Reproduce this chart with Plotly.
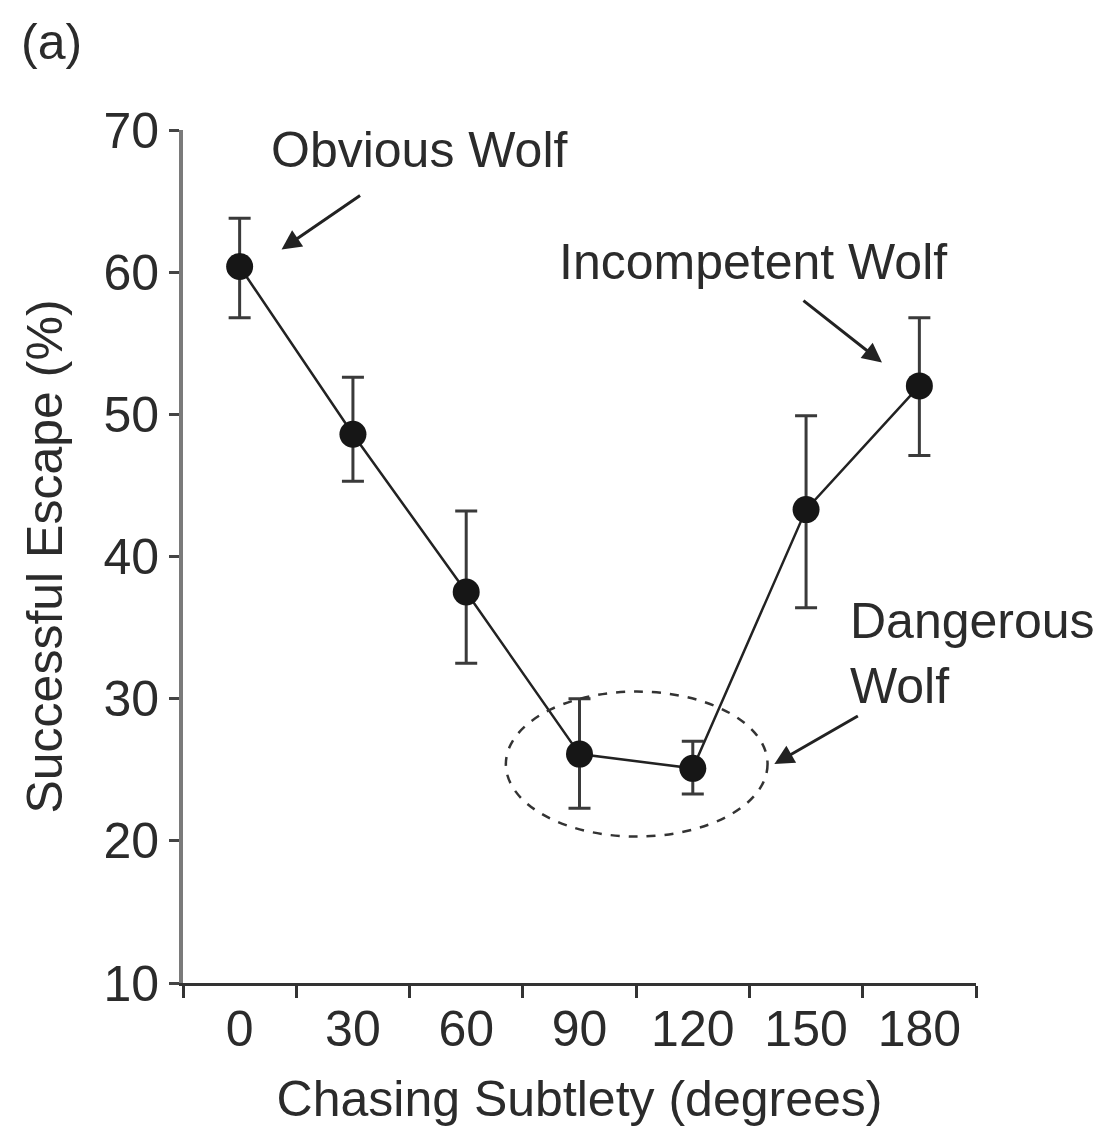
import plotly.graph_objects as go

# Chasing subtlety conditions and escape rates
subtlety = ["0", "30", "60", "90", "120", "150", "180"]
escape_pct = [60.4, 48.6, 37.5, 26.1, 25.1, 43.3, 52.0]
err_upper = [63.8, 52.6, 43.2, 30.0, 27.0, 49.9, 56.8]
err_lower = [56.8, 45.3, 32.5, 22.3, 23.3, 36.4, 47.1]

err_plus = [u - v for u, v in zip(err_upper, escape_pct)]
err_minus = [v - l for v, l in zip(escape_pct, err_lower)]

FONT = "Liberation Sans, Arial, Helvetica, sans-serif"
TXT = "#2b2b2b"
FS = 50

fig = go.Figure()
fig.add_trace(go.Scatter(
    x=subtlety, y=escape_pct,
    mode="lines+markers",
    line=dict(color="#222222", width=2.5),
    marker=dict(color="#161616", size=27),
    error_y=dict(type="data", symmetric=False, array=err_plus,
                 arrayminus=err_minus, color="#3a3a3a",
                 thickness=3, width=11),
    showlegend=False,
))

# dashed ellipse around the low-escape conditions
fig.add_shape(type="circle", xref="x", yref="y",
              x0=2.35, x1=4.66, y0=20.3, y1=30.5,
              line=dict(color="#333333", width=2.5, dash="dash"))

ann_font = dict(family=FONT, size=FS, color=TXT)
fig.add_annotation(x=1.59, y=68.6, xref="x", yref="y", text="Obvious Wolf",
                   showarrow=False, font=ann_font)
fig.add_annotation(x=4.53, y=60.74, xref="x", yref="y", text="Incompetent Wolf",
                   showarrow=False, font=ann_font)
fig.add_annotation(x=5.37, y=33.2, xref="x", yref="y", text="Dangerous<br>Wolf",
                   showarrow=False, xanchor="left", align="left", font=ann_font)

arrow = dict(showarrow=True, arrowhead=2, arrowsize=1.3, arrowwidth=3,
             arrowcolor="#222222", text="", standoff=0, xref="x", yref="y")
fig.add_annotation(x=0.37, y=61.6, ax=80, ay=-55, **arrow)
fig.add_annotation(x=5.67, y=53.65, ax=-80, ay=-63, **arrow)
fig.add_annotation(x=4.72, y=25.4, ax=85, ay=-49, **arrow)

# panel label
fig.add_annotation(x=-0.166, y=1.103, xref="paper", yref="paper", text="(a)",
                   xanchor="center", yanchor="middle",
                   showarrow=False, font=ann_font)

fig.update_xaxes(
    type="category", range=[-0.5, 6.5], tickson="boundaries",
    ticks="outside", ticklen=12, tickwidth=3, tickcolor="#333333",
    showline=True, linecolor="#333333", linewidth=3,
    showgrid=False, zeroline=False,
    tickfont=dict(family=FONT, size=FS, color=TXT),
    title=dict(text="Chasing Subtlety (degrees)", standoff=25,
               font=dict(family=FONT, size=FS, color=TXT)),
)
fig.update_yaxes(
    range=[10, 70], tickvals=[10, 20, 30, 40, 50, 60, 70],
    ticks="outside", ticklen=10, tickwidth=3, tickcolor="#444444",
    showline=True, linecolor="#7a7a7a", linewidth=4,
    showgrid=False, zeroline=False,
    tickfont=dict(family=FONT, size=FS, color=TXT),
    title=dict(text="Successful Escape (%)", standoff=26,
               font=dict(family=FONT, size=FS, color=TXT)),
)

fig.update_layout(
    width=1102, height=1129,
    margin=dict(l=183, r=126, t=130, b=144),
    paper_bgcolor="white", plot_bgcolor="white",
    font=dict(family=FONT, color=TXT),
)

fig.write_html("out.html")
